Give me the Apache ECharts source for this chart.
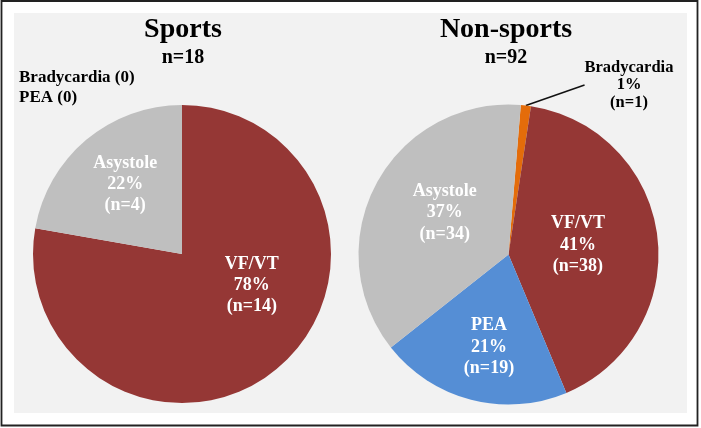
<!DOCTYPE html>
<html>
<head>
<meta charset="utf-8">
<script src="https://cdn.jsdelivr.net/npm/echarts@6/dist/echarts.min.js"></script>
<style>
html,body{margin:0;padding:0;background:#fff;}
#chart{width:701px;height:428px;}
</style>
</head>
<body>
<div id="chart"></div>
<script>
// ---- data ----
var categories = ['Bradycardia', 'VF/VT', 'PEA', 'Asystole'];
var sportsValues = [0, 14, 0, 4];
var nonSportsValues = [1, 38, 19, 34];
var groupTitles = ['Sports', 'Non-sports'];
var colors = ['#E46C0A', '#953735', '#558ED5', '#BFBFBF'];

var FONT = '"Liberation Serif", "Times New Roman", serif';

function total(arr){ return arr.reduce(function(a,b){return a+b;},0); }

function buildData(values, outsideNames){
  var out = [];
  values.forEach(function(v,i){
    if (v === 0) return;
    var item = { name: categories[i], value: v, itemStyle: { color: colors[i] } };
    if (outsideNames.indexOf(categories[i]) >= 0) {
      item.label = { position: 'outside', color: '#000', lineHeight: 17.5, fontSize: 16.5 };
      item.labelLine = { show: true, length: 20, length2: 0, lineStyle: { color: '#111', width: 1.5 } };
    }
    out.push(item);
  });
  return out;
}

var zeroNote = categories.filter(function(c,i){ return sportsValues[i] === 0; })
  .map(function(c){ return c + ' (0)'; }).join('\n');

var labelFmt = function(p){ return p.name + '\n' + Math.round(p.percent) + '%\n(n=' + p.value + ')'; };

// label nudges (styling) keyed by category
var leftNudge = { 'VF/VT': [20, -28], 'Asystole': [-7, -10] };
var rightNudge = { 'VF/VT': [-8, 0], 'PEA': [0, 17], 'Asystole': [5, -5] };

var chart = echarts.init(document.getElementById('chart'), null, { renderer: 'canvas' });

var titleStyle = { fontFamily: FONT, fontSize: 28, fontWeight: 'bold', color: '#000' };
var subStyle = { fontFamily: FONT, fontSize: 20, fontWeight: 'bold', color: '#000' };

var option = {
  backgroundColor: '#fff',
  animation: false,
  graphic: [
    { type: 'rect', z: -10, shape: { x: 14, y: 13, width: 673, height: 400 }, style: { fill: '#F2F2F2' } },
    { type: 'rect', z: -9, shape: { x: 1.5, y: 1, width: 696, height: 424.5 }, style: { fill: 'none', stroke: '#222', lineWidth: 1.8 } }
  ],
  title: [
    {
      text: groupTitles[0], subtext: 'n=' + total(sportsValues),
      left: 183, top: 16, padding: 0, textAlign: 'center', itemGap: 4,
      textStyle: titleStyle, subtextStyle: subStyle
    },
    {
      text: groupTitles[1], subtext: 'n=' + total(nonSportsValues),
      left: 506, top: 16, padding: 0, textAlign: 'center', itemGap: 4,
      textStyle: titleStyle, subtextStyle: subStyle
    },
    {
      text: zeroNote, left: 19, top: 68, padding: 0,
      textStyle: { fontFamily: FONT, fontSize: 17, fontWeight: 'bold', color: '#000', lineHeight: 19.5 }
    }
  ],
  series: [
    {
      type: 'pie', name: groupTitles[0],
      center: [182, 254], radius: 149, startAngle: 90, clockwise: true,
      avoidLabelOverlap: false, silent: true,
      itemStyle: { borderWidth: 0 },
      label: { show: true, position: 'inside', formatter: labelFmt, color: '#fff',
               fontFamily: FONT, fontSize: 18, fontWeight: 'bold', lineHeight: 21 },
      labelLine: { show: false },
      labelLayout: function(p){
        var n = leftNudge[p.text ? p.text.split('\n')[0] : ''];
        return n ? { dx: n[0], dy: n[1] } : {};
      },
      data: buildData(sportsValues, [])
    },
    {
      type: 'pie', name: groupTitles[1],
      center: [508.5, 254.5], radius: 150, startAngle: 85.3, clockwise: true,
      avoidLabelOverlap: false, silent: true,
      itemStyle: { borderWidth: 0 },
      label: { show: true, position: 'inside', formatter: labelFmt, color: '#fff',
               fontFamily: FONT, fontSize: 18, fontWeight: 'bold', lineHeight: 21.5 },
      labelLine: { show: false },
      labelLayout: function(p){
        var name = p.text ? p.text.split('\n')[0] : '';
        if (name === 'Bradycardia') return { x: 629, y: 85, align: 'center', verticalAlign: 'middle' };
        var n = rightNudge[name];
        return n ? { dx: n[0], dy: n[1] } : {};
      },
      data: buildData(nonSportsValues, ['Bradycardia'])
    }
  ]
};
chart.setOption(option);
</script>
</body>
</html>
